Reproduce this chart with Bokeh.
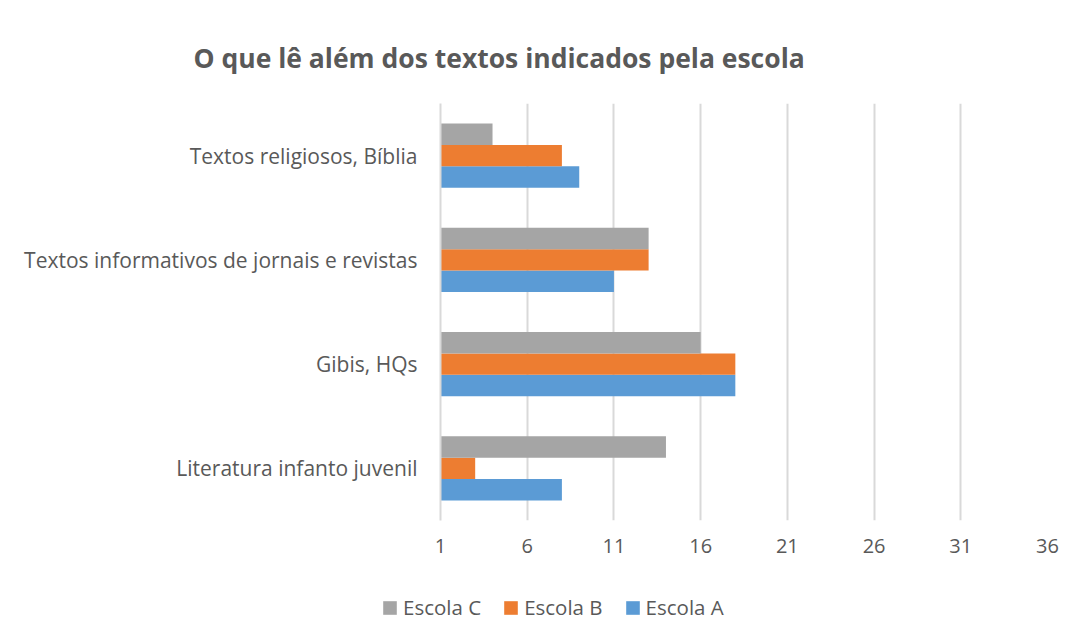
from bokeh.plotting import figure
from bokeh.layouts import column
from bokeh.models import FactorRange, Range1d, FixedTicker, ColumnDataSource, Legend, LegendItem
from bokeh.transform import dodge
from bokeh.embed import file_html
from bokeh.resources import INLINE

categories = ["Literatura infanto juvenil", "Gibis, HQs",
              "Textos informativos de jornais e revistas", "Textos religiosos, Bíblia"]
escola_a = [8, 18, 11, 9]
escola_b = [3, 18, 13, 8]
escola_c = [14, 16, 13, 4]
x_ticks = [1, 6, 11, 16, 21, 26, 31, 36]
title_text = "O que lê além dos textos indicados pela escola"
series_names = ["Escola C", "Escola B", "Escola A"]
series_colors = ["#a5a5a5", "#ed7d31", "#5b9bd5"]

src = ColumnDataSource(dict(cat=categories, a=escola_a, b=escola_b, c=escola_c))

p = figure(y_range=FactorRange(factors=categories), x_range=Range1d(1, 36),
           frame_width=607, frame_height=417,
           min_border_left=440, min_border_right=28, min_border_top=103, min_border_bottom=60,
           output_backend="svg", toolbar_location=None, title=title_text)

bw = 0.205
p.hbar(y=dodge("cat", -bw, range=p.y_range), left=1, right="a", height=bw,
       source=src, fill_color=series_colors[2], line_color=None)
p.hbar(y=dodge("cat", 0, range=p.y_range), left=1, right="b", height=bw,
       source=src, fill_color=series_colors[1], line_color=None)
p.hbar(y=dodge("cat", bw, range=p.y_range), left=1, right="c", height=bw,
       source=src, fill_color=series_colors[0], line_color=None)

p.title.text_font = "Open Sans"
p.title.text_font_size = "26.5px"
p.title.text_font_style = "bold"
p.title.text_color = "#595959"
p.title.align = "left"
p.title.offset = -247
p.title.standoff = 56

p.xaxis.ticker = FixedTicker(ticks=x_ticks)
p.xaxis.axis_line_color = None
p.xaxis.major_tick_line_color = None
p.xaxis.minor_tick_line_color = None
p.xaxis.major_label_text_font = "Open Sans"
p.xaxis.major_label_text_font_size = "20px"
p.xaxis.major_label_text_color = "#595959"
p.xaxis.major_label_standoff = 12

p.yaxis.axis_line_color = "#d9d9d9"
p.yaxis.axis_line_width = 2
p.yaxis.major_tick_line_color = None
p.yaxis.minor_tick_line_color = None
p.yaxis.major_label_text_font = "Open Sans"
p.yaxis.major_label_text_font_size = "21px"
p.yaxis.major_label_text_color = "#595959"
p.yaxis.major_label_standoff = 17

p.xgrid.grid_line_color = "#d9d9d9"
p.xgrid.grid_line_width = 2
p.ygrid.grid_line_color = None
p.outline_line_color = None

# legend strip below the chart (proxy glyphs lie outside its visible range)
leg_fig = figure(frame_width=1075, frame_height=48, min_border=0,
                 x_range=Range1d(0, 1), y_range=Range1d(0, 1),
                 output_backend="svg", toolbar_location=None)
leg_fig.axis.visible = False
leg_fig.grid.visible = False
leg_fig.outline_line_color = None
proxy = ColumnDataSource(dict(y=[-10], right=[-9]))
items = []
for name, col in zip(series_names, series_colors):
    r = leg_fig.hbar(y="y", left=-10, right="right", height=0.1, source=proxy,
                     fill_color=col, line_color=None)
    items.append(LegendItem(label=name, renderers=[r]))

legend = Legend(items=items, orientation="horizontal", location=(381, 7),
                label_text_font="Open Sans", label_text_font_size="20.5px",
                label_text_color="#595959", glyph_width=17, glyph_height=17,
                label_standoff=5, spacing=21, padding=0, margin=0, border_line_color=None,
                background_fill_alpha=0, label_height=20)
leg_fig.add_layout(legend, "center")

layout = column(p, leg_fig, spacing=0)
open("out.html", "w").write(file_html(layout, INLINE))
